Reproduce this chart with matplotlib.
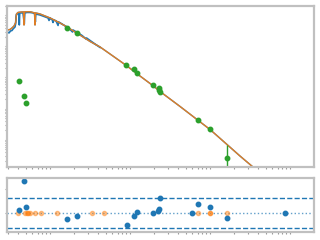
import matplotlib
matplotlib.use("Agg")
import matplotlib.pyplot as plt

# observed spectrum (wavelength in micron, lambda*F_lambda)
spec_wave = [0.294, 0.307, 0.321, 0.335, 0.345, 0.355, 0.365, 0.371, 0.376, 0.381,
             0.398, 0.410, 0.413, 0.418, 0.434, 0.460, 0.477, 0.483, 0.516, 0.562,
             0.613, 0.649, 0.655, 0.663, 0.750, 0.841, 0.944, 0.972, 1.00, 1.03,
             1.06, 1.09, 1.11, 1.19, 1.26, 1.28, 1.41, 1.585, 1.78, 1.91,
             1.94, 2.24, 2.51, 2.82, 2.86, 3.16, 3.65, 4.22]
spec_flux = [2.90e-10, 2.70e-10, 3.13e-10, 3.24e-10, 3.62e-10, 3.91e-10, 4.21e-10, 5.25e-10, 8.81e-10, 1.06e-9,
             1.14e-9, 1.19e-9, 4.88e-10, 1.19e-9, 1.19e-9, 1.19e-9, 5.25e-10, 1.19e-9, 1.23e-9, 1.23e-9,
             1.19e-9, 1.10e-9, 6.10e-10, 1.10e-9, 1.02e-9, 9.15e-10, 8.19e-10, 6.81e-10, 8.19e-10, 7.60e-10,
             7.33e-10, 5.86e-10, 7.06e-10, 6.56e-10, 4.70e-10, 6.10e-10, 5.25e-10, 4.36e-10, 3.49e-10, 2.90e-10,
             3.36e-10, 2.70e-10, 2.24e-10, 1.73e-10, 1.86e-10, 1.55e-10, 1.19e-10, 9.23e-11]

# model spectrum
model_wave = [0.294, 0.316, 0.335, 0.355, 0.371, 0.381, 0.398, 0.447, 0.466, 0.473,
              0.480, 0.50, 0.562, 0.640, 0.649, 0.659, 0.750, 0.866, 1.00, 1.155,
              1.33, 1.63, 2.05, 2.59, 3.16, 4.22, 5.62, 8.99, 13.3, 19.6,
              23.7, 42.2, 71.4, 100.0, 163.0, 237.0, 345.0, 750.0, 1995.0]
model_flux = [3.36e-10, 3.49e-10, 3.91e-10, 4.53e-10, 5.65e-10, 1.10e-9, 1.23e-9, 1.28e-9, 1.28e-9, 4.87e-10,
              1.28e-9, 1.30e-9, 1.30e-9, 1.19e-9, 4.87e-10, 1.19e-9, 1.10e-9, 9.49e-10, 8.19e-10, 6.81e-10,
              5.65e-10, 4.21e-10, 2.90e-10, 2.00e-10, 1.44e-10, 9.57e-11, 5.70e-11, 2.43e-11, 1.12e-11, 5.33e-12,
              3.55e-12, 1.17e-12, 4.14e-13, 2.13e-13, 7.02e-14, 2.99e-14, 1.32e-14, 2.24e-15, 2.26e-16]

# photometry
phot_wave = [0.413, 0.477, 0.506, 1.645, 2.19, 9.0, 11.3, 12.3, 19.6, 23.2, 22.8, 23.9, 71.4, 100.0, 164.0]
phot_flux = [7.7e-12, 2.49e-12, 1.48e-12, 3.82e-10, 2.64e-10, 2.47e-11, 1.84e-11, 1.36e-11, 5.61e-12,
             4.5e-12, 3.88e-12, 3.34e-12, 4.21e-13, 2.16e-13, 2.52e-14]
phot_err_lo = [0, 0, 0, 0, 0, 0, 0, 0, 0, 0, 0, 0, 0, 0, 2.51e-14]
phot_err_hi = [0, 0, 0, 0, 0, 0, 0, 0, 0, 0, 0, 0, 0, 0, 4.2e-14]

# residuals
res_wave = [0.413, 0.477, 0.506, 1.645, 2.19, 9.1, 11.3, 12.3, 19.6, 22.6, 23.2, 23.9,
            60.1, 71.4, 100.0, 164.0, 873.0]
res_val = [0.61, 6.5, 1.28, -1.22, -0.61, -2.44, -0.61, 0.2, 0.0, 0.41, 0.93, 3.05,
           0.0, 1.83, 1.22, -1.02, 0.0]
res_model_wave = [0.40, 0.49, 0.51, 0.535, 0.557, 0.64, 0.78, 1.23, 3.38, 4.69, 71.4, 100.0, 100.0, 164.0]
res_model_val = [0, 0, 0, 0, 0, 0, 0, 0, 0, 0, 0, 0, 0, 0]

XLIM = (0.294, 1995.0)
SPINE = "#c0c0c0"


def style_axes(ax):
    for sp in ax.spines.values():
        sp.set_color(SPINE)
        sp.set_linewidth(1.6)
    ax.tick_params(which="both", colors="#999999", length=1.5, width=0.8,
                   labelleft=False, labelbottom=False)


fig = plt.figure(figsize=(3.2, 2.4), dpi=100)
ax = fig.add_axes([0.0234, 0.305, 0.958, 0.671])
rax = fig.add_axes([0.0234, 0.0333, 0.958, 0.2263])

# blue model underneath the orange one, blue observed spectrum in the optical
ax.plot(model_wave, model_flux, color="C0", lw=1.0)
ax.plot(spec_wave, spec_flux, color="C0", lw=1.2)
ax.plot(model_wave, model_flux, color="C1", lw=1.0, alpha=0.85)
ax.errorbar(phot_wave, phot_flux, yerr=[phot_err_lo, phot_err_hi], fmt="o",
            color="C2", ms=3.2, elinewidth=1.0, capsize=0)
ax.set_xscale("log")
ax.set_yscale("log")
ax.set_xlim(*XLIM)
ax.set_ylim(10 ** -13.87, 10 ** -8.695)
style_axes(ax)

rax.axhline(0, color="C0", ls=":", lw=1.0, alpha=0.7)
rax.axhline(3, color="C0", ls="--", lw=1.0)
rax.axhline(-3, color="C0", ls="--", lw=1.0)
rax.plot(res_model_wave, res_model_val, "o", color="C1", ms=3, alpha=0.45)
rax.plot(res_wave, res_val, "o", color="C0", ms=3.2)
rax.set_xscale("log")
rax.set_xlim(*XLIM)
rax.set_ylim(-3.8, 7.2)
rax.set_yticks([0, 5])
style_axes(rax)

fig.savefig("out.png", dpi=100)
